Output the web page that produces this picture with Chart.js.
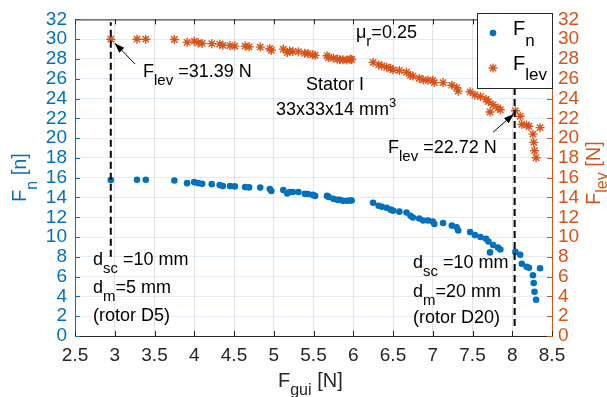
<!DOCTYPE html>
<html>
<head>
<meta charset="utf-8">
<script src="https://cdn.jsdelivr.net/npm/chart.js@4"></script>
<style>html,body{margin:0;padding:0;background:#fff}</style>
</head>
<body>
<canvas id="c" width="607" height="397"></canvas>
<script>
// Fgui [N] is shared by both series
const fgui = [2.95,3.28,3.39,3.75,3.91,4.00,4.05,4.10,4.22,4.32,4.36,4.45,4.51,4.64,4.69,4.83,4.95,4.97,5.12,5.17,
  5.20,5.24,5.31,5.39,5.43,5.49,5.52,5.67,5.69,5.75,5.80,5.83,5.87,5.92,5.96,5.98,6.25,6.32,6.36,6.42,
  6.47,6.50,6.58,6.67,6.72,6.75,6.83,6.88,6.94,7.00,7.02,7.13,7.24,7.30,7.32,7.47,7.53,7.60,7.67,7.70,
  7.72,7.76,7.82,7.85,8.04,8.10,8.12,8.18,8.21,8.26,8.35,8.27,8.28,8.30];
const fn = [15.77,15.8,15.8,15.72,15.45,15.55,15.45,15.38,15.35,15.25,15.15,15.15,15.12,15.05,15.02,15.0,14.85,14.65,14.75,14.4,
  14.55,14.55,14.55,14.38,14.36,14.26,14.16,14.16,14.06,13.86,13.76,13.76,13.66,13.66,13.7,13.7,13.47,13.17,13.07,12.97,
  12.77,12.67,12.57,12.48,12.15,11.98,11.88,11.68,11.68,11.58,11.32,11.42,11.16,10.99,10.66,10.50,10.20,10.0,9.83,9.55,
  8.45,9.2,8.95,8.74,8.5,8.2,7.3,7.0,6.9,6.14,6.85,5.35,4.46,3.66];
const flev = [30.0,30.0,30.0,29.97,29.68,29.8,29.62,29.57,29.55,29.5,29.38,29.35,29.3,29.3,29.24,29.2,29.04,28.88,29.0,28.65,
  28.81,28.76,28.74,28.58,28.55,28.42,28.38,28.32,28.15,28.09,27.99,27.95,27.92,27.89,27.99,27.95,27.66,27.4,27.3,27.16,
  27.06,26.9,26.83,26.66,26.34,26.27,26.05,25.9,25.85,25.84,25.61,25.61,25.35,25.1,24.75,24.68,24.36,24.19,23.93,23.69,
  22.64,23.37,23.04,22.87,22.77,22.21,21.39,21.32,21.2,20.4,21.06,19.57,18.74,18.02];

const xTicks = [2.5,3,3.5,4,4.5,5,5.5,6,6.5,7,7.5,8,8.5];
const yTicks = [0,2,4,6,8,10,12,14,16,18,20,22,24,26,28,30,32];

// dashed marker lines (Fgui, from, to) and arrows (tail -> head) in data units
const markX = [2.95, 8.03];
const markFrom = [8, 1];
const markTo = [31.7, 32];
const arrows = [[3.255, 27.5, 3.0, 29.6], [7.76, 20.6, 8.02, 22.45]];

const blue = '#0072BD', orange = '#D95319', ink = '#262626';
const FONT = '"Liberation Sans", Arial, Helvetica, sans-serif';

function rich(ctx, x, y, parts, o) {
  ctx.save();
  ctx.translate(x, y);
  if (o.rotate) ctx.rotate(-Math.PI / 2);
  ctx.fillStyle = o.color || '#000';
  ctx.textAlign = 'left';
  ctx.textBaseline = 'alphabetic';
  let cx = 0;
  parts.forEach(([t, k]) => {
    let size = o.size, dy = 0;
    if (k === 'sub') { size = o.sub; dy = o.subDy; }
    if (k === 'sup') { size = o.sub - 2; dy = -o.size * 0.45; }
    ctx.font = size + 'px ' + FONT;
    ctx.fillText(t, cx, dy);
    cx += ctx.measureText(t).width;
  });
  ctx.restore();
}

function star(ctx, x, y, r) {
  ctx.beginPath();
  for (let i = 0; i < 4; i++) {
    const a = i * Math.PI / 4;
    ctx.moveTo(x - r * Math.cos(a), y - r * Math.sin(a));
    ctx.lineTo(x + r * Math.cos(a), y + r * Math.sin(a));
  }
  ctx.stroke();
}

const txt = {size: 18, sub: 15, subDy: 8};
const notes = [
  [143, 77, [['F'], ['lev', 'sub'], [' =31.39 N']]],
  [306, 90, [['Stator I']]],
  [276, 115, [['33x33x14 mm'], ['3', 'sup']]],
  [356, 38, [['\u03bc'], ['r', 'sub'], ['=0.25']]],
  [388, 153, [['F'], ['lev', 'sub'], [' =22.72 N']]],
  [93, 265, [['d'], ['sc', 'sub'], [' =10 mm']]],
  [93, 293, [['d'], ['m', 'sub'], ['=5 mm']]],
  [93, 321, [['(rotor D5)']]],
  [413, 268, [['d'], ['sc', 'sub'], [' =10 mm']]],
  [413, 297, [['d'], ['m', 'sub'], ['=20 mm']]],
  [413, 323, [['(rotor D20)']]]
];

const decor = {
  id: 'decor',
  afterDraw(chart) {
    const ctx = chart.ctx, a = chart.chartArea;
    const sx = chart.scales.x, sy = chart.scales.y;
    ctx.save();
    // box top and inward ticks
    ctx.lineWidth = 1;
    ctx.strokeStyle = ink;
    ctx.beginPath();
    ctx.moveTo(a.left, a.top + 0.5); ctx.lineTo(a.right, a.top + 0.5);
    xTicks.forEach(v => {
      const px = Math.round(sx.getPixelForValue(v)) + 0.5;
      ctx.moveTo(px, a.bottom); ctx.lineTo(px, a.bottom - 5);
      ctx.moveTo(px, a.top); ctx.lineTo(px, a.top + 5);
    });
    ctx.stroke();
    ctx.strokeStyle = blue;
    ctx.beginPath();
    yTicks.forEach(v => {
      const py = Math.round(sy.getPixelForValue(v)) + 0.5;
      ctx.moveTo(a.left, py); ctx.lineTo(a.left + 5, py);
    });
    ctx.stroke();
    ctx.strokeStyle = orange;
    ctx.beginPath();
    yTicks.forEach(v => {
      const py = Math.round(sy.getPixelForValue(v)) + 0.5;
      ctx.moveTo(a.right, py); ctx.lineTo(a.right - 5, py);
    });
    ctx.stroke();

    // arrows
    ctx.strokeStyle = '#000'; ctx.fillStyle = '#000';
    arrows.forEach(([x0, y0, x1, y1]) => {
      const ax = sx.getPixelForValue(x0), ay = sy.getPixelForValue(y0);
      const bx = sx.getPixelForValue(x1), by = sy.getPixelForValue(y1);
      const ang = Math.atan2(by - ay, bx - ax);
      ctx.beginPath(); ctx.moveTo(ax, ay); ctx.lineTo(bx, by); ctx.stroke();
      ctx.beginPath();
      ctx.moveTo(bx, by);
      ctx.lineTo(bx - 10 * Math.cos(ang) + 3.5 * Math.sin(ang), by - 10 * Math.sin(ang) - 3.5 * Math.cos(ang));
      ctx.lineTo(bx - 10 * Math.cos(ang) - 3.5 * Math.sin(ang), by - 10 * Math.sin(ang) + 3.5 * Math.cos(ang));
      ctx.closePath(); ctx.fill();
    });

    notes.forEach(([x, y, p]) => rich(ctx, x, y, p, txt));

    // axis titles
    rich(ctx, 278, 387, [['F'], ['gui', 'sub'], [' [N]']], {size: 20, sub: 16, subDy: 8, color: ink});
    rich(ctx, 26, 202, [['F'], ['n', 'sub'], [' [n]']], {size: 20, sub: 16, subDy: 11, color: blue, rotate: true});
    rich(ctx, 600, 205, [['F'], ['lev', 'sub'], [' [N]']], {size: 20, sub: 16, subDy: 7, color: orange, rotate: true});

    // legend
    ctx.fillStyle = '#fff';
    ctx.fillRect(477, 13, 75, 75);
    ctx.lineWidth = 1;
    ctx.strokeStyle = ink;
    ctx.strokeRect(477.5, 13.5, 75, 75);
    ctx.fillStyle = blue;
    ctx.beginPath(); ctx.arc(493, 33, 3.3, 0, Math.PI * 2); ctx.fill();
    ctx.strokeStyle = orange; ctx.lineWidth = 1.4;
    star(ctx, 493, 68, 4.5);
    rich(ctx, 513, 35, [['F'], ['n', 'sub']], {size: 20, sub: 17, subDy: 11});
    rich(ctx, 513, 70, [['F'], ['lev', 'sub']], {size: 20, sub: 17, subDy: 10});
    ctx.restore();
  }
};

const tickFont = {family: FONT, size: 19};

const markerSets = markX.map((x, i) => ({
  type: 'line',
  data: [{x: x, y: markFrom[i]}, {x: x, y: markTo[i]}],
  yAxisID: 'y',
  borderColor: '#000',
  borderWidth: 2,
  borderDash: [7, 4],
  pointRadius: 0,
  showLine: true,
  order: 0
}));

new Chart(document.getElementById('c'), {
  type: 'scatter',
  data: {
    datasets: [
      {
        label: 'Fn',
        data: fgui.map((x, i) => ({x: x, y: fn[i]})),
        yAxisID: 'y',
        pointStyle: 'circle',
        pointRadius: 3.3,
        backgroundColor: blue,
        borderColor: blue,
        borderWidth: 0,
        order: 1
      },
      {
        label: 'Flev',
        data: fgui.map((x, i) => ({x: x, y: flev[i]})),
        yAxisID: 'y1',
        pointStyle: 'star',
        pointRadius: 4.5,
        backgroundColor: orange,
        borderColor: orange,
        borderWidth: 1.4,
        order: 1
      },
      ...markerSets
    ]
  },
  options: {
    responsive: false,
    devicePixelRatio: 1,
    animation: false,
    layout: {padding: {top: 13, left: 0, right: 0, bottom: 0}},
    plugins: {legend: {display: false}, tooltip: {enabled: false}},
    scales: {
      x: {
        type: 'linear', min: 2.5, max: 8.5,
        afterBuildTicks: s => { s.ticks = xTicks.map(v => ({value: v})); },
        afterFit: s => { s.height = 61; },
        ticks: {font: tickFont, color: ink, padding: 8, autoSkip: false, maxRotation: 0, callback: v => String(v)},
        grid: {color: 'rgba(38,38,38,0.13)', drawTicks: false},
        border: {color: ink, width: 1}
      },
      y: {
        type: 'linear', position: 'left', min: 0, max: 32,
        afterBuildTicks: s => { s.ticks = yTicks.map(v => ({value: v})); },
        afterFit: s => { s.width = 75; },
        ticks: {font: tickFont, color: blue, padding: 8, autoSkip: false, callback: v => String(v)},
        grid: {color: 'rgba(0,90,170,0.11)', drawTicks: false},
        border: {color: blue, width: 1}
      },
      y1: {
        type: 'linear', position: 'right', min: 0, max: 32,
        afterBuildTicks: s => { s.ticks = yTicks.map(v => ({value: v})); },
        afterFit: s => { s.width = 55; },
        ticks: {font: tickFont, color: orange, padding: 6, autoSkip: false, callback: v => String(v)},
        grid: {display: false, drawTicks: false},
        border: {color: orange, width: 1}
      }
    }
  },
  plugins: [decor]
});
</script>
</body>
</html>
